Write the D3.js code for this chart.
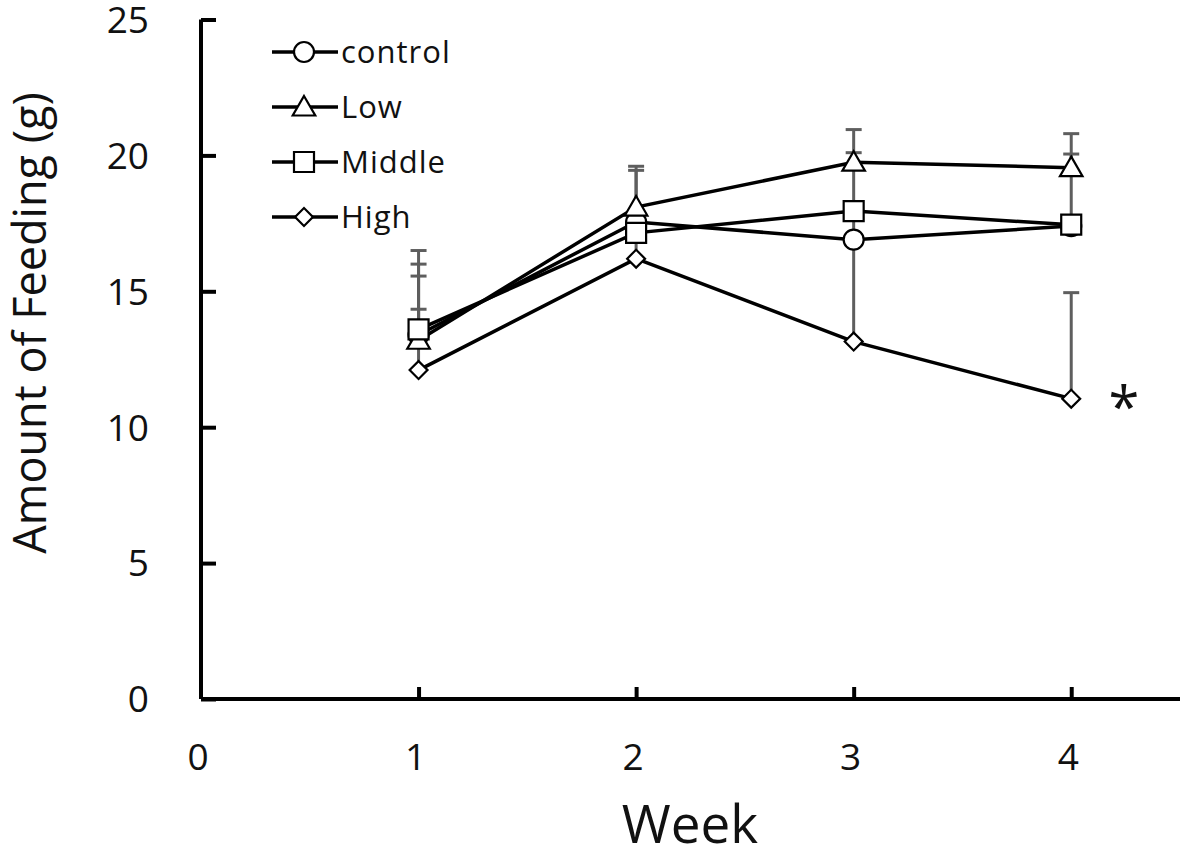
<!DOCTYPE html>
<html><head><meta charset="utf-8">
<script src="https://cdn.jsdelivr.net/npm/d3@7"></script>
<style>body{margin:0;background:#fff}svg{display:block}text{font-family:"Open Sans",sans-serif;fill:#111}</style>
</head><body><svg id="c" width="1189" height="854"></svg>
<script>
const weeks = [1, 2, 3, 4];
const seriesNames = ["control", "Low", "Middle", "High"];
const controlVals = [13.4, 17.55, 16.9, 17.4];
const controlErr = [3.1, 1.9, 3.2, 0.3];
const lowVals = [13.2, 18.1, 19.75, 19.55];
const lowErr = [2.8, 1.5, 1.2, 1.25];
const middleVals = [13.6, 17.15, 17.95, 17.45];
const middleErr = [1.96, 0.3, 0.3, 2.6];
const highVals = [12.1, 16.2, 13.15, 11.05];
const highErr = [2.24, 0.8, 3.8, 3.9];
const xTicks = [0, 1, 2, 3, 4];
const yTicks = [0, 5, 10, 15, 20, 25];
const markerTypes = ["circle", "triangle", "square", "diamond"];

const series = [
  {name: seriesNames[0], vals: controlVals, err: controlErr, m: markerTypes[0]},
  {name: seriesNames[1], vals: lowVals, err: lowErr, m: markerTypes[1]},
  {name: seriesNames[2], vals: middleVals, err: middleErr, m: markerTypes[2]},
  {name: seriesNames[3], vals: highVals, err: highErr, m: markerTypes[3]}
];

const svg = d3.select("#c");
const x = d3.scaleLinear().domain([0, 4.5]).range([201, 1180]);
const y = d3.scaleLinear().domain([0, 25]).range([699, 19.5]);

// axes
const yAxis = d3.axisRight(y).tickValues(yTicks).tickSize(15).tickFormat("");
const gy = svg.append("g").attr("transform", `translate(${x(0)},0)`).call(yAxis);
gy.select(".domain").attr("d", `M0,${y(25)}V${y(0)}`);
gy.selectAll("path,line").attr("stroke", "#000").attr("stroke-width", 4);

const xAxis = d3.axisTop(x).tickValues([1,2,3,4]).tickSize(12).tickFormat("");
const gx = svg.append("g").attr("transform", `translate(0,${y(0)})`).call(xAxis);
gx.select(".domain").attr("d", `M${x(0)},0H${x(4.5)}`);
gx.selectAll("path,line").attr("stroke", "#000").attr("stroke-width", 4);

svg.append("g").selectAll("text").data(yTicks).join("text")
  .attr("x", 149).attr("y", d => y(d)).attr("dy", "0.36em")
  .attr("text-anchor", "end").attr("font-size", 37).text(d => d);
svg.append("g").selectAll("text").data(xTicks).join("text")
  .attr("x", d => x(d) - 3).attr("y", 757).attr("dy", "0.36em")
  .attr("text-anchor", "middle").attr("font-size", 37).text(d => d);

svg.append("text").attr("transform", `translate(46,${323}) rotate(-90)`)
  .attr("text-anchor", "middle").attr("font-size", 45).text("Amount of Feeding (g)");
svg.append("text").attr("x", 690).attr("y", 843)
  .attr("text-anchor", "middle").attr("font-size", 53).text("Week");

// error bars (plus only)
const eg = svg.append("g");
series.forEach(s => {
  weeks.forEach((w, i) => {
    const top = s.vals[i] + s.err[i];
    eg.append("line").attr("x1", x(w)).attr("x2", x(w)).attr("y1", y(s.vals[i])).attr("y2", y(top))
      .attr("stroke", "#5e5e5e").attr("stroke-width", 3);
    eg.append("line").attr("x1", x(w) - 8).attr("x2", x(w) + 8).attr("y1", y(top)).attr("y2", y(top))
      .attr("stroke", "#5e5e5e").attr("stroke-width", 3);
  });
});

// lines
const line = d3.line().x((d, i) => x(weeks[i])).y(d => y(d));
series.forEach(s => {
  svg.append("path").attr("d", line(s.vals)).attr("fill", "none")
    .attr("stroke", "#000").attr("stroke-width", 3.5);
});

const sym = {
  circle: d3.symbol().type(d3.symbolCircle).size(Math.PI * 10 * 10),
  triangle: d3.symbol().type(d3.symbolTriangle).size(220),
  square: d3.symbol().type(d3.symbolSquare).size(400),
  diamond: d3.symbol().type(d3.symbolSquare).size(160)
};
function marker(g, type, cx, cy) {
  const p = g.append("path").attr("d", sym[type]()).attr("fill", "#fff")
    .attr("stroke", "#000").attr("stroke-width", 2.2);
  if (type === "diamond") p.attr("transform", `translate(${cx},${cy}) rotate(45)`);
  else if (type === "triangle") p.attr("transform", `translate(${cx},${cy + 2})`);
  else p.attr("transform", `translate(${cx},${cy})`);
}
const mg = svg.append("g");
series.forEach(s => {
  weeks.forEach((w, i) => marker(mg, s.m, x(w), y(s.vals[i])));
});

// legend
const lg = svg.append("g");
series.forEach((s, i) => {
  const cy = 52 + i * 55;
  lg.append("line").attr("x1", 272).attr("x2", 338).attr("y1", cy).attr("y2", cy)
    .attr("stroke", "#000").attr("stroke-width", 3.5);
  marker(lg, s.m, 304, cy);
  lg.append("text").attr("x", 341).attr("y", cy).attr("dy", "0.36em")
    .attr("font-size", 31).attr("letter-spacing", 1).text(s.name);
});

svg.append("text").attr("x", 1124).attr("y", 427).attr("text-anchor", "middle")
  .attr("font-size", 56).text("*");
</script></body></html>
